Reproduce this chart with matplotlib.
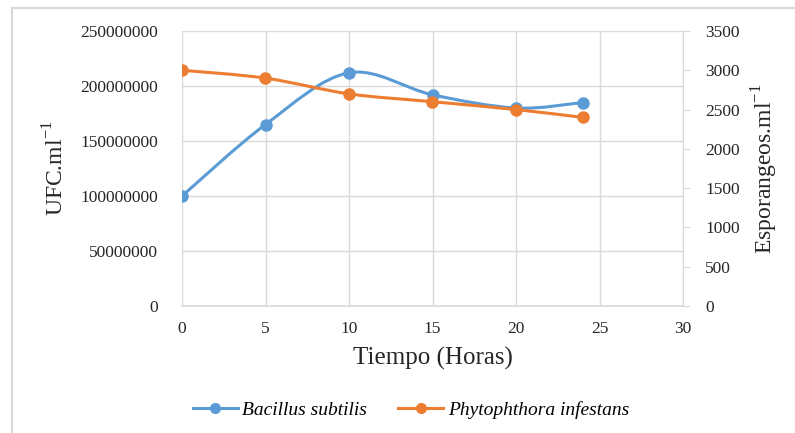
import numpy as np
import matplotlib
matplotlib.use("Agg")
import matplotlib.pyplot as plt
from matplotlib.path import Path
from matplotlib.patches import PathPatch
from matplotlib.lines import Line2D

plt.rcParams["font.family"] = ["Liberation Serif", "DejaVu Serif"]
plt.rcParams["mathtext.fontset"] = "custom"
plt.rcParams["mathtext.rm"] = "Liberation Serif"

horas = [0, 5, 10, 15, 20, 24]
bacillus_ufc = [100000000, 165000000, 212000000, 192000000, 180000000, 185000000]
phytophthora_esp = [3000, 2900, 2700, 2600, 2500, 2400]

x_ticks = [0, 5, 10, 15, 20, 25, 30]
left_ticks = [0, 50000000, 100000000, 150000000, 200000000, 250000000]
right_ticks = [0, 500, 1000, 1500, 2000, 2500, 3000, 3500]

BLUE = "#5B9BD5"
ORANGE = "#ED7D31"
GRID = "#d9d9d9"
TEXT = "#262626"


def smooth_path(xs, ys):
    """Catmull-Rom style bezier path through the points (spreadsheet smoothing)."""
    pts = np.column_stack([xs, ys]).astype(float)
    verts = [pts[0]]
    codes = [Path.MOVETO]
    n = len(pts)
    for i in range(n - 1):
        p0 = pts[i - 1] if i > 0 else pts[i]
        p1 = pts[i]
        p2 = pts[i + 1]
        p3 = pts[i + 2] if i + 2 < n else pts[i + 1]
        c1 = p1 + (p2 - p0) / 6.0
        c2 = p2 - (p3 - p1) / 6.0
        verts += [c1, c2, p2]
        codes += [Path.CURVE4] * 3
    return Path(verts, codes)


fig = plt.figure(figsize=(7.95, 4.33), dpi=100)
ax = fig.add_axes([182 / 795, 1 - 306 / 433, (683 - 182) / 795, (306 - 31) / 433])
ax2 = ax.twinx()

ax.set_xlim(0, 30)
ax.set_ylim(0, 250000000)
ax2.set_ylim(0, 3500)

ax.set_xticks(x_ticks)
ax.set_yticks(left_ticks)
ax.set_yticklabels([str(v) for v in left_ticks])
ax2.set_yticks(right_ticks)

ax.grid(True, color=GRID, linewidth=1)
ax.set_axisbelow(True)
for s in ["top", "left", "right"]:
    ax.spines[s].set_visible(False)
    ax2.spines[s].set_visible(False)
ax.spines["bottom"].set_color(GRID)
ax.spines["bottom"].set_linewidth(1.2)
ax2.spines["bottom"].set_visible(False)
ax2.spines["right"].set_visible(True)
ax2.spines["right"].set_color(GRID)

ax.tick_params(axis="both", length=0, labelsize=12.5, labelcolor=TEXT)
ax.tick_params(axis="x", pad=11)
ax.tick_params(axis="y", pad=17)
ax2.tick_params(axis="y", length=5, color=GRID, labelsize=12.5, labelcolor=TEXT, pad=11)

ax.patch.set_visible(False)

# B. subtilis on the left axis
ax.add_patch(PathPatch(smooth_path(horas, bacillus_ufc), facecolor="none",
                       edgecolor=BLUE, linewidth=2.2, zorder=3))
ax.plot(horas, bacillus_ufc, linestyle="none", marker="o", markersize=8,
        color=BLUE, zorder=4)

# P. infestans on the right axis
ax2.add_patch(PathPatch(smooth_path(horas, phytophthora_esp), facecolor="none",
                        edgecolor=ORANGE, linewidth=2.2, zorder=3))
ax2.plot(horas, phytophthora_esp, linestyle="none", marker="o", markersize=8,
         color=ORANGE, zorder=4)

ax.set_xlabel("Tiempo (Horas)", fontsize=18, labelpad=7, color=TEXT)
ax.set_ylabel("UFC.ml$^{-1}$", fontsize=17, labelpad=9, color=TEXT)
ax2.set_ylabel("Esporangeos.ml$^{-1}$", fontsize=17, labelpad=7, color=TEXT)

handles = [
    Line2D([], [], color=BLUE, linewidth=2.2, marker="o", markersize=7),
    Line2D([], [], color=ORANGE, linewidth=2.2, marker="o", markersize=7),
]
fig.legend(handles, ["Bacillus subtilis", "Phytophthora infestans"],
           loc="center", bbox_to_anchor=(411 / 795, 1 - 410 / 433), ncol=2,
           frameon=False, prop={"style": "italic", "size": 14},
           handlelength=2.3, columnspacing=1.6, handletextpad=0.25)

# outer chart frame
fig.add_artist(Line2D([12 / 795, 12 / 795], [0, 1 - 8 / 433], transform=fig.transFigure,
                      color=GRID, linewidth=1.5))
fig.add_artist(Line2D([12 / 795, 1], [1 - 8 / 433, 1 - 8 / 433], transform=fig.transFigure,
                      color=GRID, linewidth=1.5))

fig.savefig("out.png", dpi=100)
